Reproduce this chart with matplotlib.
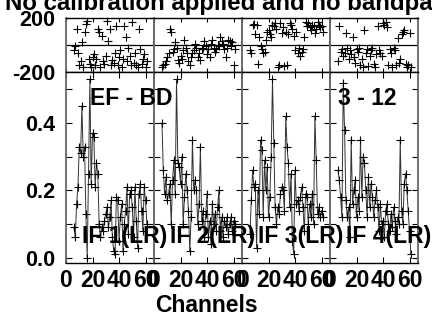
import numpy as np
import matplotlib
matplotlib.use('Agg')
import matplotlib.pyplot as plt
from matplotlib.ticker import MultipleLocator

plt.rcParams['font.family'] = ['Liberation Sans', 'DejaVu Sans']
plt.rcParams['font.weight'] = 'bold'

title = "No calibration applied and no bandpass applied"
baseline_label = "EF - BD"
time_label = "3 - 12"
if_labels = ["IF 1(LR)", "IF 2(LR)", "IF 3(LR)", "IF 4(LR)"]
xlabel = "Channels"

channels = np.arange(6, 62)

amp_if1 = [0.09, 0.06, 0.16, 0.21, 0.33, 0.31, 0.45, 0.30,
           0.33, 0.13, 0.00, 0.25, 0.53, 0.22, 0.37, 0.36,
           0.21, 0.28, 0.25, 0.10, 0.06, 0.09, 0.08, 0.11,
           0.13, 0.15, 0.09, 0.12, 0.17, 0.06, 0.02, 0.01,
           0.18, 0.17, 0.05, 0.12, 0.16, 0.02, 0.10, 0.14,
           0.21, 0.07, 0.19, 0.20, 0.15, 0.06, 0.21, 0.11,
           0.03, 0.19, 0.22, 0.14, 0.08, 0.21, 0.17, 0.10]
amp_if2 = [0.40, 0.26, 0.19, 0.24, 0.17, 0.19, 0.22, 0.10,
           0.23, 0.29, 0.19, 0.53, 0.28, 0.27, 0.22, 0.30,
           0.10, 0.18, 0.25, 0.20, 0.14, 0.02, 0.12, 0.35,
           0.20, 0.23, 0.20, 0.10, 0.16, 0.33, 0.11, 0.14,
           0.06, 0.13, 0.19, 0.06, 0.11, 0.04, 0.16, 0.10,
           0.13, 0.08, 0.15, 0.20, 0.08, 0.12, 0.06, 0.11,
           0.09, 0.12, 0.07, 0.10, 0.12, 0.08, 0.11, 0.10]
amp_if3 = [0.07, 0.17, 0.26, 0.21, 0.22, 0.03, 0.20, 0.13,
           0.35, 0.32, 0.12, 0.29, 0.20, 0.27, 0.12, 0.18,
           0.30, 0.53, 0.34, 0.15, 0.10, 0.15, 0.13, 0.19,
           0.21, 0.20, 0.14, 0.42, 0.33, 0.28, 0.15, 0.25,
           0.05, 0.01, 0.26, 0.16, 0.17, 0.14, 0.18, 0.21,
           0.15, 0.08, 0.19, 0.18, 0.10, 0.16, 0.12, 0.19,
           0.10, 0.42, 0.29, 0.13, 0.15, 0.12, 0.14, 0.12]
amp_if4 = [0.26, 0.23, 0.18, 0.12, 0.52, 0.38, 0.17, 0.12,
           0.15, 0.06, 0.35, 0.16, 0.20, 0.23, 0.12, 0.18,
           0.14, 0.35, 0.18, 0.30, 0.28, 0.20, 0.12, 0.24,
           0.15, 0.22, 0.18, 0.12, 0.17, 0.20, 0.15, 0.08,
           0.16, 0.10, 0.11, 0.06, 0.14, 0.16, 0.10, 0.08,
           0.13, 0.09, 0.15, 0.11, 0.07, 0.12, 0.10, 0.35,
           0.14, 0.10, 0.22, 0.25, 0.20, 0.14, 0.08, 0.01]

phase_if1 = [-40, -5, 118, -60, -150, -120, 20, -160,
             94, 156, 180, -105, -140, -165, -90, -70,
             -150, -100, 118, 94, -160, 69, -120, -140,
             -80, 180, 30, 118, -150, -110, -130, -60,
             143, -150, -90, -40, -160, -100, 143, 57,
             -120, -20, -80, -150, 170, -130, -60, -150,
             -165, 120, -30, -140, -100, -70, -160, -120]
phase_if2 = [-165, -150, -140, -120, -90, -60, 120, 100,
             -50, -30, 20, -20, -110, -130, -80, -100,
             -40, 40, -20, -60, -120, -150, -90, -60,
             -40, 10, -20, -90, -60, -110, -30, -20,
             30, -10, -70, -30, -90, 10, 40, -20,
             -50, -30, 0, -10, 60, 30, 10, -30,
             -90, -20, 40, 30, -10, 20, -150, -30]
phase_if3 = [-40, -60, 150, 155, 80, 150, -140, 60,
             -10, -30, -60, -50, 40, 100, 110, 80,
             60, 150, 140, 160, 120, -160, -150, 160,
             90, 130, -155, 100, -150, 80, 160, 150,
             120, 70, -40, 100, -60, -20, -80, -50,
             -30, 60, 170, 140, 160, 130, 110, 150,
             140, 90, 120, 170, 150, 130, 140, 100]
phase_if4 = [-120, 140, -50, -30, -80, -60, 90, -20,
             -100, -40, -70, 60, -90, -130, -30, -50,
             -20, -150, -100, -160, 110, -60, -30, -155,
             -80, -40, -20, -140, -160, -70, 140, -40,
             -60, -80, 160, 150, 170, 130, -150, -30,
             -60, -160, -20, -40, -150, 50, -130, -100,
             80, 100, 110, -140, -160, -150, 90, -160]

amps = [amp_if1, amp_if2, amp_if3, amp_if4]
phases = [phase_if1, phase_if2, phase_if3, phase_if4]

W, H = 432, 320
fig = plt.figure(figsize=(W / 100, H / 100), dpi=100)

left_px, pw = 66, 88
amp_bot, amp_top, ph_top = 263, 72, 18
fs_tick = 15.5
fs_xtick = 16.5
fs_lab = 16.5


def style_spines(ax):
    for s in ('left', 'right'):
        ax.spines[s].set_color('#666666')
        ax.spines[s].set_linewidth(1.3)
    for s in ('top', 'bottom'):
        ax.spines[s].set_color('black')
        ax.spines[s].set_linewidth(1.0)


for i in range(4):
    x0 = (left_px + i * pw) / W
    axp = fig.add_axes([x0, 1 - amp_top / H, pw / W, (amp_top - ph_top) / H])
    axa = fig.add_axes([x0, 1 - amp_bot / H, pw / W, (amp_bot - amp_top) / H])

    # phase
    axp.plot(channels, phases[i], ls='none', marker='+', ms=6, mew=0.8, color='black')
    axp.axhline(0, color='black', lw=0.9)
    axp.set_xlim(0, 66.4)
    axp.set_ylim(-200, 200)
    axp.xaxis.set_major_locator(MultipleLocator(20))
    axp.set_xticklabels([])
    axp.set_yticks([-200, 200])
    if i == 0:
        axp.set_yticklabels(['-200', '200'], fontsize=fs_tick, fontweight='bold')
    else:
        axp.set_yticklabels([])
    axp.tick_params(direction='in', length=3, width=0.8, top=True, right=True, pad=8)
    style_spines(axp)

    # amplitude
    axa.plot(channels, amps[i], color='#333333', lw=0.7, marker='+', ms=6,
             mew=0.8, mec='black')
    axa.set_xlim(0, 66.4)
    axa.set_ylim(-0.016, 0.552)
    axa.xaxis.set_major_locator(MultipleLocator(20))
    axa.yaxis.set_major_locator(MultipleLocator(0.2))
    axa.yaxis.set_minor_locator(MultipleLocator(0.1))
    axa.tick_params(which='both', direction='in', length=4, width=0.8,
                    top=True, right=True)
    axa.tick_params(axis='y', pad=8)
    axa.tick_params(axis='x', pad=4)
    axa.xaxis.set_major_formatter(plt.FuncFormatter(lambda v, p: f"{v:.0f}"))
    for lab in axa.get_xticklabels():
        lab.set_fontsize(fs_xtick)
        lab.set_fontweight('bold')
    axa.tick_params(axis='x', labelsize=fs_xtick)
    axa.tick_params(axis='y', labelsize=fs_tick)
    if i == 0:
        axa.yaxis.set_major_formatter(plt.FuncFormatter(lambda v, p: f"{v:.1f}"))
    else:
        axa.set_yticklabels([])
    style_spines(axa)

    fig.text((left_px + i * pw + 16) / W, 1 - 243 / H, if_labels[i],
             fontsize=fs_lab, fontweight='bold', ha='left', va='baseline')

fig.text(5 / W, 1 - 10 / H, title, fontsize=17.3, fontweight='bold',
         ha='left', va='baseline')
fig.text(90 / W, 1 - 105 / H, baseline_label, fontsize=fs_lab, fontweight='bold',
         ha='left', va='baseline')
fig.text(338 / W, 1 - 105 / H, time_label, fontsize=fs_lab, fontweight='bold',
         ha='left', va='baseline')
fig.text(206 / W, 1 - 312 / H, xlabel, fontsize=fs_lab, fontweight='bold',
         ha='center', va='baseline')

fig.savefig('out.png', dpi=100)
